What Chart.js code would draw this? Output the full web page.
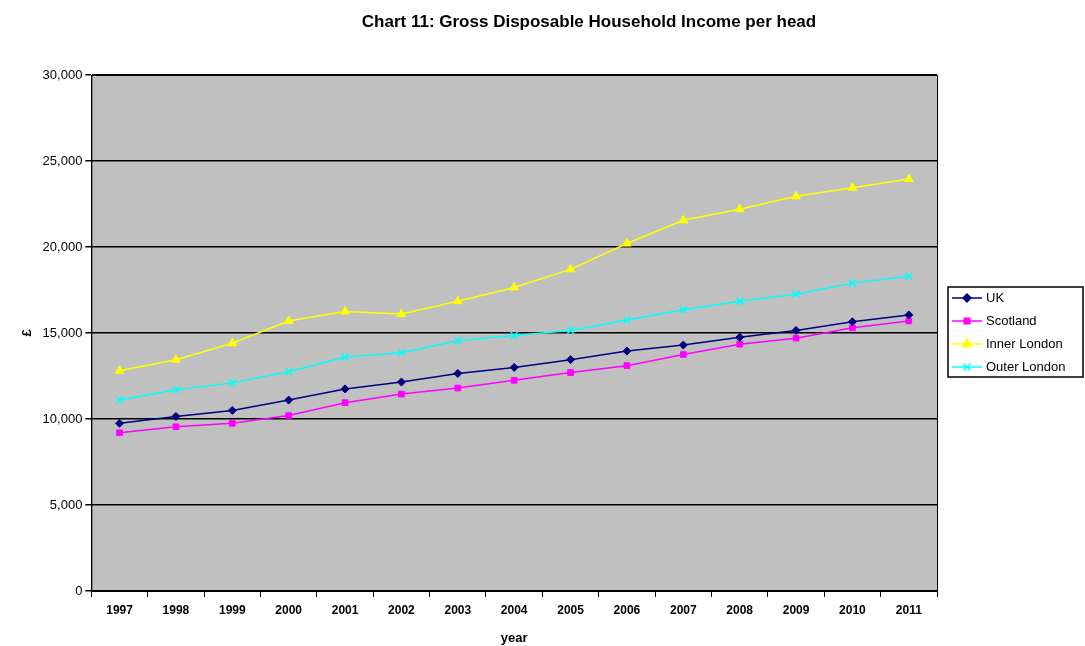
<!DOCTYPE html>
<html><head><meta charset="utf-8">
<script src="https://cdn.jsdelivr.net/npm/chart.js@4"></script>
<style>body{margin:0;background:#fff}#c{width:1085px;height:646px}</style>
</head><body><div id="c"><canvas id="chart"></canvas></div>
<script>
const years = ['1997','1998','1999','2000','2001','2002','2003','2004','2005','2006','2007','2008','2009','2010','2011'];
const uk = [9750,10150,10500,11100,11750,12150,12650,13000,13450,13950,14300,14750,15150,15650,16050];
const scotland = [9200,9550,9750,10200,10950,11450,11800,12250,12700,13100,13750,14350,14700,15300,15700];
const innerLondon = [12800,13450,14400,15700,16250,16100,16850,17650,18700,20200,21550,22200,22950,23450,23950];
const outerLondon = [11100,11700,12100,12750,13600,13850,14550,14850,15150,15750,16350,16850,17250,17900,18300];

const font = {family: 'Liberation Sans, Arial, sans-serif', size: 13};
Chart.defaults.font = font;
Chart.defaults.color = '#000';

const mk = (label, data, color, style, r) => ({
  label, data, borderColor: color, backgroundColor: color, pointStyle: style,
  pointRadius: r, pointBorderColor: color, pointBackgroundColor: color,
  borderWidth: 1.5, pointBorderWidth: style === 'crossRot' ? 1.5 : 1, tension: 0
});

const bgPlugin = {
  id: 'plotBg',
  beforeDraw: (chart) => {
    const {ctx, chartArea: a} = chart;
    ctx.save();
    ctx.fillStyle = '#c0c0c0';
    ctx.fillRect(a.left, a.top, a.right - a.left, a.bottom - a.top);
    ctx.restore();
  },
  afterDraw: (chart) => {
    const {ctx, chartArea: a} = chart;
    ctx.save();
    ctx.strokeStyle = '#000';
    ctx.lineWidth = 1;
    ctx.strokeRect(a.left + 0.5, a.top + 0.5, a.right - a.left, a.bottom - a.top);
    // title
    ctx.fillStyle = '#000';
    ctx.font = 'bold 17px ' + font.family;
    ctx.textAlign = 'center';
    ctx.textBaseline = 'middle';
    ctx.fillText('Chart 11: Gross Disposable Household Income per head', 589, 22);
    ctx.textAlign = 'left';
    // legend
    const lx = 948, ly = 287, lw = 135, lh = 90;
    ctx.fillStyle = '#fff';
    ctx.fillRect(lx, ly, lw, lh);
    ctx.lineWidth = 1.5;
    ctx.strokeRect(lx, ly, lw, lh);
    ctx.font = '13px ' + font.family;
    chart.data.datasets.forEach((ds, i) => {
      const y = ly + 11 + i * 23;
      ctx.strokeStyle = ds.borderColor;
      ctx.lineWidth = 1.5;
      ctx.beginPath(); ctx.moveTo(lx + 4, y); ctx.lineTo(lx + 34, y); ctx.stroke();
      ctx.fillStyle = ds.borderColor;
      Chart.helpers.drawPoint(ctx, {pointStyle: ds.pointStyle, radius: ds.pointRadius,
        borderWidth: ds.pointBorderWidth}, lx + 19, y);
      ctx.fillStyle = '#000';
      ctx.fillText(ds.label, lx + 38, y);
    });
    ctx.restore();
  }
};

new Chart(document.getElementById('chart'), {
  type: 'line',
  data: {
    labels: years,
    datasets: [
      mk('UK', uk, '#000080', 'rectRot', 4),
      mk('Scotland', scotland, '#ff00ff', 'rect', 4),
      mk('Inner London', innerLondon, '#ffff00', 'triangle', 5),
      mk('Outer London', outerLondon, '#00ffff', 'crossRot', 5)
    ]
  },
  options: {
    responsive: true,
    maintainAspectRatio: false,
    animation: false,
    layout: {padding: {left: 16, right: 148, top: 75, bottom: 0}},
    plugins: {
      title: {display: false},
      legend: {display: false},
      tooltip: {enabled: false}
    },
    scales: {
      x: {
        offset: true,
        grid: {display: true, drawOnChartArea: false, offset: true, color: '#000', tickLength: 6},
        border: {color: '#000'},
        ticks: {font: {family: font.family, size: 12, weight: 'bold'}, padding: 6},
        title: {display: true, text: 'year', font: {family: font.family, size: 13, weight: 'bold'},
          padding: {top: 7, bottom: 0}}
      },
      y: {
        min: 0, max: 30000,
        ticks: {stepSize: 5000, font: {family: font.family, size: 13},
          callback: v => v.toLocaleString('en-GB')},
        grid: {color: '#000', lineWidth: 1.5, tickLength: 6},
        border: {color: '#000'},
        title: {display: true, text: '£', font: {family: font.family, size: 13, weight: 'bold'}}
      }
    }
  },
  plugins: [bgPlugin]
});
</script></body></html>
